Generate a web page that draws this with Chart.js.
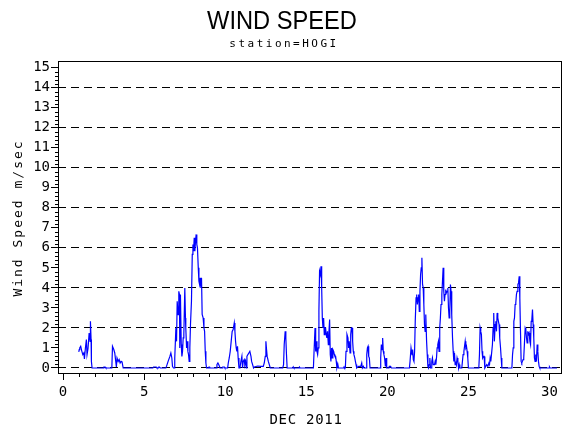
<!DOCTYPE html>
<html>
<head>
<meta charset="utf-8">
<title>Wind Speed</title>
<script src="https://cdn.jsdelivr.net/npm/chart.js"></script>
<style>
    body { margin: 0; background: #fff; }
    #chart-wind { display: block; }
</style>
</head>
<body>
<canvas id="chart-wind" width="570" height="430"></canvas>
<script>
'use strict';

var title_text = 'WIND SPEED';
var subtitle_text = 'station=HOGI';
var y_title = 'Wind Speed m/sec';
var x_title = 'DEC 2011';

var x_ticks = [0, 5, 10, 15, 20, 25, 30];
var y_ticks = [0, 1, 2, 3, 4, 5, 6, 7, 8, 9, 10, 11, 12, 13, 14, 15];

// day of month (fractional) and speed
var days = [
    0.97, 1.00, 1.03, 1.09, 1.15, 1.22, 1.28, 1.32, 1.38, 1.44, 1.48, 1.54, 1.61, 1.67, 1.69, 1.73, 1.75, 1.79,
    2.48, 2.52, 2.60, 2.64,
    3.01, 3.05, 3.13, 3.19, 3.25, 3.29, 3.33, 3.40, 3.46, 3.52, 3.58, 3.64, 3.71,
    5.54, 5.58, 5.75, 5.79, 5.88, 5.92, 5.97, 6.00,
    6.34, 6.38, 6.48, 6.59, 6.65, 6.71, 6.75, 6.81, 6.85, 6.89, 6.96, 7.00, 7.04, 7.10, 7.14, 7.18, 7.20, 7.24,
    7.29, 7.33, 7.37, 7.41, 7.45, 7.51, 7.55, 7.57, 7.62, 7.66, 7.70, 7.74, 7.78, 7.82, 7.86, 7.92, 7.97, 8.01,
    8.05, 8.09, 8.13, 8.17, 8.21, 8.25, 8.29, 8.34, 8.38, 8.42, 8.46, 8.50, 8.54, 8.58, 8.64, 8.69, 8.73, 8.77,
    8.81, 8.85,
    8.97, 9.00, 9.04, 9.07,
    9.45, 9.49, 9.55, 9.60, 9.65, 9.68,
    9.82, 9.85, 9.95, 9.98,
    10.15, 10.19, 10.25, 10.31, 10.37, 10.43, 10.49, 10.56, 10.60, 10.64, 10.68, 10.72, 10.76, 10.80, 10.85,
    10.91, 10.97, 11.03, 11.07, 11.11, 11.17, 11.21, 11.26, 11.30, 11.34, 11.40, 11.46, 11.52, 11.59, 11.63,
    11.69, 11.75, 11.80, 12.00, 12.20, 12.35,
    12.41, 12.47, 12.51, 12.55, 12.59, 12.66, 12.72, 12.78,
    13.55, 13.60, 13.64, 13.70, 13.74, 13.78, 13.82,
    14.18, 14.20, 14.24, 14.55, 14.58, 14.62,
    15.44, 15.48, 15.54, 15.58, 15.62, 15.66, 15.70, 15.74, 15.78, 15.82, 15.87, 15.91, 15.95, 15.99, 16.03,
    16.07, 16.11, 16.15, 16.19, 16.23, 16.27, 16.31, 16.36, 16.40, 16.44, 16.48, 16.52, 16.56, 16.60, 16.64,
    16.69, 16.73, 16.77, 16.81, 16.85, 16.89, 16.95, 16.99,
    17.30, 17.33, 17.36,
    17.41, 17.45, 17.51, 17.57, 17.61, 17.65, 17.70, 17.74, 17.78, 17.82, 17.86, 17.90, 17.94, 17.99, 18.03,
    18.07, 18.11, 18.23, 18.36, 18.42, 18.46, 18.52, 18.56, 18.69, 18.73, 18.77, 18.81, 18.85, 18.89, 18.93,
    19.55, 19.59, 19.63, 19.67, 19.71, 19.75, 19.79, 19.83, 19.88, 19.92, 19.96,
    20.10, 20.12, 20.20, 20.25,
    21.36, 21.40, 21.46, 21.52, 21.56, 21.60, 21.64, 21.68, 21.72, 21.77, 21.81, 21.85, 21.89, 21.93, 21.97,
    22.01, 22.05, 22.09, 22.13, 22.17, 22.21, 22.25, 22.29, 22.33, 22.37, 22.42, 22.46, 22.50, 22.54, 22.58,
    22.62, 22.66, 22.70, 22.74, 22.78, 22.83, 22.87, 22.91, 22.95, 22.99, 23.03, 23.07, 23.11, 23.15, 23.19,
    23.23, 23.27, 23.31, 23.36, 23.40, 23.44, 23.48, 23.52, 23.56, 23.60, 23.64, 23.69, 23.73, 23.77, 23.81,
    23.85, 23.89, 23.93, 23.97, 24.02, 24.06, 24.10, 24.14, 24.18, 24.22, 24.26, 24.30, 24.35, 24.39, 24.43,
    24.47, 24.59, 24.63, 24.67, 24.72, 24.76, 24.80, 24.84, 24.88, 24.92, 24.96, 25.00,
    25.64, 25.68, 25.72, 25.76, 25.80, 25.84, 25.88, 25.93, 25.97, 26.01, 26.07, 26.13, 26.20, 26.26, 26.30,
    26.34, 26.38, 26.44, 26.48, 26.52, 26.56, 26.60, 26.65, 26.69, 26.73, 26.77, 26.81, 26.85, 26.89, 26.93,
    26.98, 27.02, 27.06,
    27.68, 27.72, 27.76, 27.80, 27.84, 27.88, 27.92, 27.96, 28.00, 28.05, 28.09, 28.13, 28.17, 28.21, 28.25,
    28.29, 28.33, 28.37, 28.41, 28.46, 28.50, 28.54, 28.58, 28.62, 28.66, 28.70, 28.74, 28.79, 28.83, 28.87,
    28.91, 28.95, 28.99, 29.03, 29.07, 29.11, 29.15, 29.19, 29.24, 29.28, 29.32, 29.36, 29.40,
    29.98, 30.00, 30.03, 30.46
];

var speeds = [
    0.80, 0.92, 1.00, 1.08, 0.87, 0.67, 0.75, 0.45, 1.00, 1.42, 0.67, 0.97, 1.75, 1.33, 2.33, 1.42, 0.33, 0,
    0, 0.05, 0.05, 0,
    0, 1.08, 0.92, 0.75, 0.33, 0.05, 0.50, 0.33, 0.42, 0.25, 0.33, 0.30, 0,
    0, 0.05, 0.05, 0, 0, 0.05, 0.05, 0,
    0, 0.08, 0.33, 0.58, 0.75, 0.50, 0.08, 0, 0, 0.50, 2.00, 1.33, 3.33, 2.67, 3.83, 3.67, 1.00, 3.67,
    1.17, 0.58, 0.83, 1.50, 1.67, 4.00, 2.50, 2.00, 1.00, 1.33, 0.83, 0.67, 0.33, 1.00, 2.17, 3.33, 5.67, 6.17,
    5.83, 6.50, 5.83, 6.33, 6.67, 6.17, 6.00, 5.00, 4.33, 4.17, 4.50, 4.00, 4.50, 2.67, 2.50, 2.00, 1.83, 0.83,
    0.25, 0,
    0, 0.05, 0.05, 0,
    0, 0.17, 0.25, 0.17, 0.08, 0,
    0, 0.05, 0.05, 0,
    0, 0.25, 0.50, 0.83, 1.33, 1.83, 1.92, 2.25, 1.83, 1.33, 1.00, 0.83, 1.08, 0.50, 0,
    0, 0.33, 0.58, 0, 0.33, 0.42, 0.17, 0.33, 0, 0.58, 0.67, 0.75, 0.83, 0.58, 0.33,
    0.17, 0, 0.05, 0.10, 0.08, 0.08,
    0.25, 0.58, 1.33, 0.92, 0.58, 0.33, 0.17, 0,
    0, 0.17, 1.17, 1.83, 1.50, 0.67, 0,
    0, 0.05, 0, 0, 0.05, 0,
    0, 0.83, 2.00, 0.83, 1.33, 0.83, 0.67, 1.00, 2.83, 4.83, 4.67, 5.08, 4.00, 2.50, 2.00,
    2.50, 1.67, 2.00, 2.00, 1.67, 1.50, 1.83, 1.17, 1.83, 2.42, 0.67, 0.33, 1.00, 0.50, 0.92,
    0.83, 0.67, 0.58, 0.58, 0.33, 0, 0.17, 0,
    0, 0.05, 0,
    0, 0.83, 1.67, 1.50, 1.00, 1.33, 0.75, 1.67, 2.00, 2.00, 1.33, 0.83, 0.67, 0.50, 0.33,
    0.17, 0, 0.08, 0.08, 0.25, 0, 0.08, 0, 0, 0.67, 1.00, 1.08, 0.58, 0.50, 0,
    0, 0.50, 1.17, 0.92, 1.50, 0.83, 0.67, 0.50, 0.08, 0.50, 0,
    0, 0.08, 0.08, 0,
    0, 0.33, 1.00, 0.67, 0.92, 0.42, 0.33, 0.83, 2.33, 3.50, 3.67, 3.17, 3.50, 3.67, 2.83,
    3.83, 4.67, 5.00, 5.50, 4.17, 4.00, 3.17, 2.17, 1.83, 2.67, 1.33, 0.67, 0.08, 0, 0.17,
    0.50, 0, 0, 0.33, 0.50, 0.17, 0.17, 0.17, 0.33, 0.17, 0.50, 1.00, 1.17, 1.33, 0.83,
    2.00, 2.50, 3.17, 3.67, 4.33, 5.00, 3.83, 3.33, 3.67, 3.92, 3.75, 3.83, 4.00, 3.00, 2.50,
    2.83, 4.17, 3.83, 2.67, 1.50, 0.83, 0.33, 0.75, 0.17, 0.33, 0.17, 0.50, 0.33, 0, 0.17,
    0, 0, 0.33, 0.67, 0.83, 1.08, 1.33, 1.00, 1.08, 0.83, 0.50, 0,
    0, 0.67, 2.00, 1.83, 1.67, 0.83, 0.50, 0.58, 0.58, 0, 0.08, 0.17, 0.08, 0.25, 0.17,
    0.50, 0.33, 0.83, 1.17, 2.00, 2.75, 1.33, 2.17, 2.33, 1.83, 2.75, 2.50, 2.33, 2.17, 1.50,
    1.00, 0.50, 0,
    0, 0.67, 1.00, 2.33, 2.50, 3.17, 3.25, 3.67, 3.83, 4.17, 4.25, 4.58, 3.50, 1.83, 0.33,
    0.25, 0.33, 0.42, 0.50, 1.33, 2.00, 1.92, 1.50, 1.25, 1.83, 1.67, 1.75, 1.33, 1.17, 2.33,
    2.42, 2.92, 2.17, 1.50, 0.50, 0.33, 0.67, 0.33, 1.17, 0.83, 0.33, 0.08, 0,
    0, 0.05, 0, 0
];

var wind_points = days.map(function(d, i) {
    return { x: d, y: speeds[i] };
});

// frame, minor ticks and the letter-spaced SAS style texts
var sasDecor = {
    id: 'sasDecor',
    afterDraw: function(chart) {
        var c = chart.ctx;
        var area = chart.chartArea;
        var xs = chart.scales.x;
        var ys = chart.scales.y;
        var i, p;

        c.save();
        c.strokeStyle = '#000';
        c.lineWidth = 1;
        c.strokeRect(Math.round(area.left) + 0.5, Math.round(area.top) + 0.5,
            Math.round(area.right - area.left) - 1, Math.round(area.bottom - area.top));

        c.beginPath();
        for (i = 0; i <= 30; i++) {
            if (i % 5 === 0) continue;
            p = Math.round(xs.getPixelForValue(i)) + 0.5;
            c.moveTo(p, area.bottom);
            c.lineTo(p, area.bottom + 4);
        }
        for (i = 0; i < 75; i++) {
            if (i % 5 === 0) continue;
            p = Math.round(ys.getPixelForValue(i / 5)) + 0.5;
            c.moveTo(area.left - 3, p);
            c.lineTo(area.left, p);
        }
        c.stroke();

        c.fillStyle = '#000';
        c.textAlign = 'center';
        c.textBaseline = 'alphabetic';

        c.save();
        c.translate(282, 29);
        c.scale(0.91, 1);
        c.font = "26px 'Liberation Sans'";
        c.fillText(title_text, 0, 0);
        c.restore();

        c.font = "11px 'DejaVu Sans Mono'";
        c.letterSpacing = '2.5px';
        c.fillText(subtitle_text, 284, 47);

        c.font = "14px 'DejaVu Sans Mono'";
        c.letterSpacing = '0.7px';
        c.fillText(x_title, 306, 424);

        c.save();
        c.translate(22, 219);
        c.rotate(-Math.PI / 2);
        c.font = "13px 'DejaVu Sans Mono'";
        c.letterSpacing = '2px';
        c.fillText(y_title, 1, 0);
        c.restore();

        c.restore();
    }
};

var ctx_wind = document.getElementById('chart-wind').getContext('2d');

var chart_wind = new Chart(ctx_wind, {
    type: 'line',
    data: {
        datasets: [{
            label: 'Wind Speed',
            data: wind_points,
            borderColor: '#0000ff',
            borderWidth: 1.2,
            pointRadius: 0,
            tension: 0,
            fill: false
        }]
    },
    options: {
        responsive: false,
        animation: false,
        layout: {
            padding: { top: 61, right: 8, left: 0, bottom: 0 }
        },
        plugins: {
            legend: { display: false },
            tooltip: { enabled: false }
        },
        scales: {
            x: {
                type: 'linear',
                min: -0.31,
                max: 30.77,
                afterBuildTicks: function(axis) {
                    axis.ticks = x_ticks.map(function(v) { return { value: v }; });
                },
                afterFit: function(axis) {
                    axis.height = 57;
                },
                ticks: {
                    color: '#000',
                    autoSkip: false,
                    maxRotation: 0,
                    padding: 4,
                    font: { family: 'DejaVu Sans Mono', size: 14 }
                },
                grid: {
                    drawOnChartArea: false,
                    color: '#000',
                    tickLength: 7
                },
                border: { display: false }
            },
            y: {
                type: 'linear',
                min: -0.25,
                max: 15.33,
                afterBuildTicks: function(axis) {
                    axis.ticks = y_ticks.map(function(v) { return { value: v }; });
                },
                afterFit: function(axis) {
                    axis.width = 58;
                },
                ticks: {
                    color: '#000',
                    autoSkip: false,
                    padding: 1,
                    font: { family: 'DejaVu Sans Mono', size: 14 }
                },
                grid: {
                    color: function(context) {
                        if (context.tick && context.tick.value % 2 === 0) return '#000';
                        return 'rgba(0,0,0,0)';
                    },
                    tickColor: '#000',
                    tickLength: 7,
                    lineWidth: 1
                },
                border: { display: false, dash: [8, 5] }
            }
        }
    },
    plugins: [sasDecor]
});
</script>
</body>
</html>
